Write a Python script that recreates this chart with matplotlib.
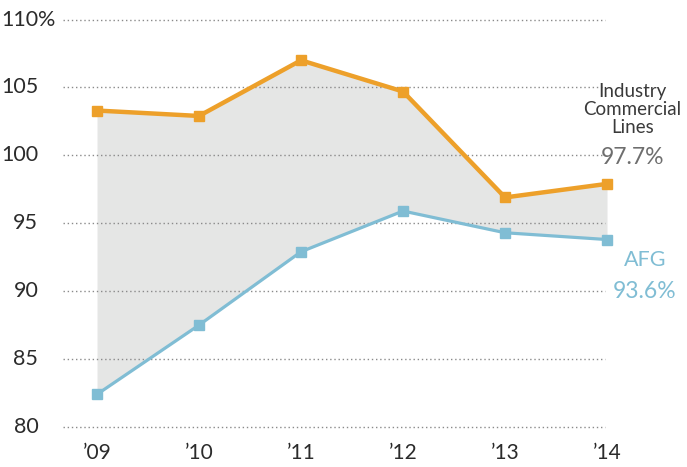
import numpy as np
import matplotlib.pyplot as plt

plt.rcParams['font.family'] = ['Lato', 'DejaVu Sans']

# dados
years = ['\u201909', '\u201910', '\u201911', '\u201912', '\u201913', '\u201914']
industry = [103.3, 102.9, 107.0, 104.7, 96.9, 97.9]
afg = [82.4, 87.5, 92.9, 95.9, 94.3, 93.8]
yticks = [80, 85, 90, 95, 100, 105, 110]

orange = '#EDA02A'
blue = '#80BDD4'
x = np.arange(len(years))

fig = plt.figure(figsize=(6.87, 4.67), dpi=100)
ax = fig.add_axes([0, 0, 1, 1])
ax.set_xlim(-0.951, 5.784)
ax.set_ylim(77.05, 111.44)
ax.axis('off')

# area entre as curvas
ax.fill_between(x, afg, industry, color='#E5E6E5', lw=0, zorder=1)

# grade pontilhada
for v in yticks:
    ax.plot([-0.33, 4.98], [v, v], color='#8a8a8a', lw=1.0,
            dashes=(1, 2), zorder=2)
    ax.text(-0.575, v, str(v), ha='right', va='center', fontsize=15.5,
            color='#2b2b2b')
ax.text(-0.575, 110, '%', ha='left', va='center', fontsize=15.5, color='#2b2b2b')

# séries
ax.plot(x, industry, color=orange, lw=3.2, marker='s', ms=7.5, zorder=3)
ax.plot(x, afg, color=blue, lw=2.3, marker='s', ms=7.5, zorder=3)

# rótulos do eixo x
for xi, lab in zip(x, years):
    ax.text(xi, 78.1, lab, ha='center', va='center', fontsize=15, color='#2b2b2b')

# anotações
ax.text(5.25, 103.4, 'Industry\nCommercial\nLines', ha='center', va='center',
        fontsize=13.5, color='#3a3a3a', linespacing=1.06)
ax.text(5.25, 99.85, '97.7%', ha='center', va='center', fontsize=16.5, color='#6e6e6e')
ax.text(5.37, 92.3, 'AFG', ha='center', va='center', fontsize=15.5, color=blue)
ax.text(5.37, 90.0, '93.6%', ha='center', va='center', fontsize=16.5, color=blue)

plt.savefig('out.png', dpi=100)
